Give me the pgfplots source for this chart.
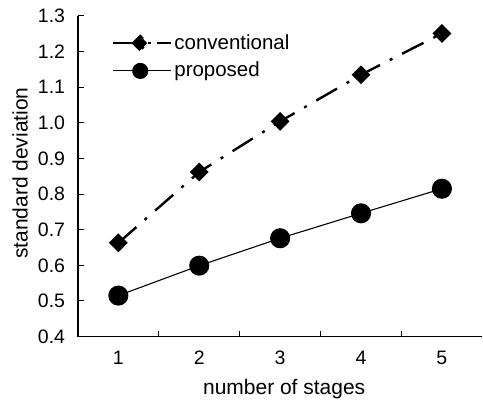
\documentclass[border=0pt]{standalone}
\usepackage{fontspec}
\setmainfont{Liberation Sans}
\usepackage{pgfplots}
\pgfplotsset{compat=1.18}
\begin{document}
\fontsize{20}{24}\selectfont
\begin{tikzpicture}
\begin{axis}[
  scale only axis,
  width=405pt, height=321pt,
  xmin=0.5, xmax=5.5, ymin=0.4, ymax=1.3,
  axis x line=bottom, axis y line=left,
  axis line style={line width=1.3pt,-},
  tick align=inside,
  xtick={1,2,3,4,5},
  major x tick style={draw=none},
  minor xtick={1.5,2.5,3.5,4.5},
  minor tick length=6pt,
  major tick length=6pt,
  tick style={black,line width=1pt},
  ytick={0.4,0.5,...,1.3},
  yticklabel style={xshift=-6pt,/pgf/number format/.cd,fixed,fixed zerofill,precision=1},
  /pgf/number format/assume math mode=true,
  ticklabel style={font=\fontsize{19.5}{23}\selectfont},
  xticklabel style={yshift=-8pt},
  label style={font=\fontsize{21}{25}\selectfont},
  xlabel={number of stages},
  ylabel={standard deviation},
  xlabel style={at={(axis description cs:0.51,-0.165)}, anchor=center},
  ylabel style={at={(axis description cs:-0.143,0.51)}, anchor=center},
  legend style={draw=none, fill=none, at={(axis description cs:0.084,0.95)}, anchor=north west,
    font=\fontsize{20.5}{24}\selectfont, row sep=6pt, inner sep=0pt},
  legend cell align=left,
  clip=false,
]
\addplot[black, line width=2.4pt, dash pattern=on 24pt off 11pt on 3pt off 11pt,
  mark=square*, mark size=5.5pt, mark options={solid, rotate=45},
  legend image code/.code={
    \draw[black, line width=2.4pt, solid] (0pt,0pt) -- (14pt,0pt);
    \draw[black, line width=2.4pt, solid] (44pt,0pt) -- (55pt,0pt);
    \draw[black, fill=black, rotate around={45:(27pt,0pt)}] (22pt,-5pt) rectangle (32pt,5pt);
    \path (0pt,0pt) -- (58pt,0pt);
  }]
  coordinates {(1,0.663) (2,0.862) (3,1.004) (4,1.135) (5,1.251)};
\addlegendentry{conventional}
\addplot[black, line width=1.1pt, mark=*, mark size=9.5pt, mark options={solid},
  legend image code/.code={
    \draw[black, line width=1.1pt] (0pt,0pt) -- (55pt,0pt);
    \fill[black] (27pt,0pt) circle (7.5pt);
    \path (0pt,0pt) -- (58pt,0pt);
  }]
  coordinates {(1,0.515) (2,0.599) (3,0.676) (4,0.746) (5,0.815)};
\addlegendentry{proposed}
\end{axis}
\path (current axis.south west) ++(-78pt,-65pt) rectangle ([yshift=16pt]current axis.north east);
\end{tikzpicture}
\end{document}
